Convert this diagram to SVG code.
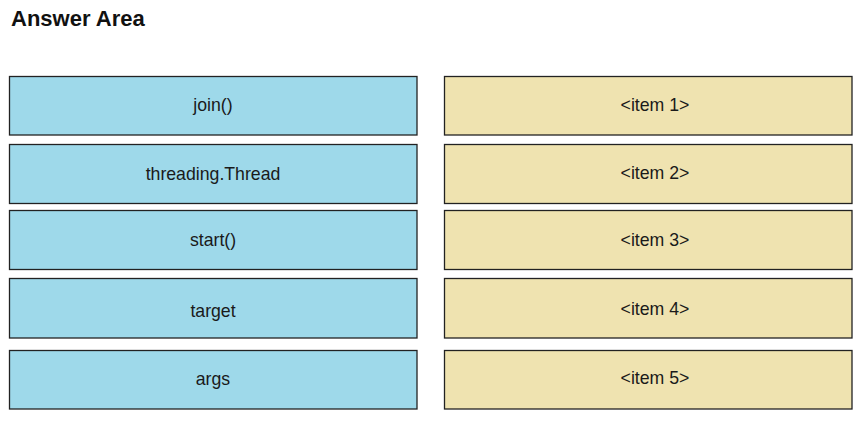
<svg xmlns="http://www.w3.org/2000/svg" width="867" height="426" viewBox="0 0 867 426">
<style>
.l rect{fill:#9ed9ea;stroke:#222;stroke-width:1.3}
.r rect{fill:#efe3b0;stroke:#222;stroke-width:1.3}
text{font-family:"Liberation Sans",Arial,sans-serif;font-size:17.7px;fill:#1a1a1a;text-anchor:middle}
.t{font-weight:bold;font-size:22px;text-anchor:start;fill:#111}
</style>
<rect width="867" height="426" fill="#fff"/>
<text class="t" x="11" y="26">Answer Area</text>
<g id="l1" class="l"><rect x="9.5" y="76.5" width="407.5" height="58.5"/><text x="213" y="111">join()</text></g>
<g id="l2" class="l"><rect x="9.5" y="144.5" width="407.5" height="59"/><text x="213" y="180">threading.Thread</text></g>
<g id="l3" class="l"><rect x="9.5" y="210.5" width="407.5" height="59"/><text x="213" y="246">start()</text></g>
<g id="l4" class="l"><rect x="9.5" y="278.5" width="407.5" height="59.5"/><text x="213" y="317">target</text></g>
<g id="l5" class="l"><rect x="9.5" y="350.5" width="407.5" height="58.5"/><text x="213" y="385">args</text></g>
<g id="r1" class="r"><rect x="444.5" y="76.5" width="407.5" height="58.5"/><text x="655" y="111">&lt;item 1&gt;</text></g>
<g id="r2" class="r"><rect x="444.5" y="144.5" width="407.5" height="59"/><text x="655" y="179">&lt;item 2&gt;</text></g>
<g id="r3" class="r"><rect x="444.5" y="210.5" width="407.5" height="59"/><text x="655" y="246">&lt;item 3&gt;</text></g>
<g id="r4" class="r"><rect x="444.5" y="278.5" width="407.5" height="59.5"/><text x="655" y="315">&lt;item 4&gt;</text></g>
<g id="r5" class="r"><rect x="444.5" y="350.5" width="407.5" height="58.5"/><text x="655" y="384">&lt;item 5&gt;</text></g>
<g id="connectors"></g>
</svg>
